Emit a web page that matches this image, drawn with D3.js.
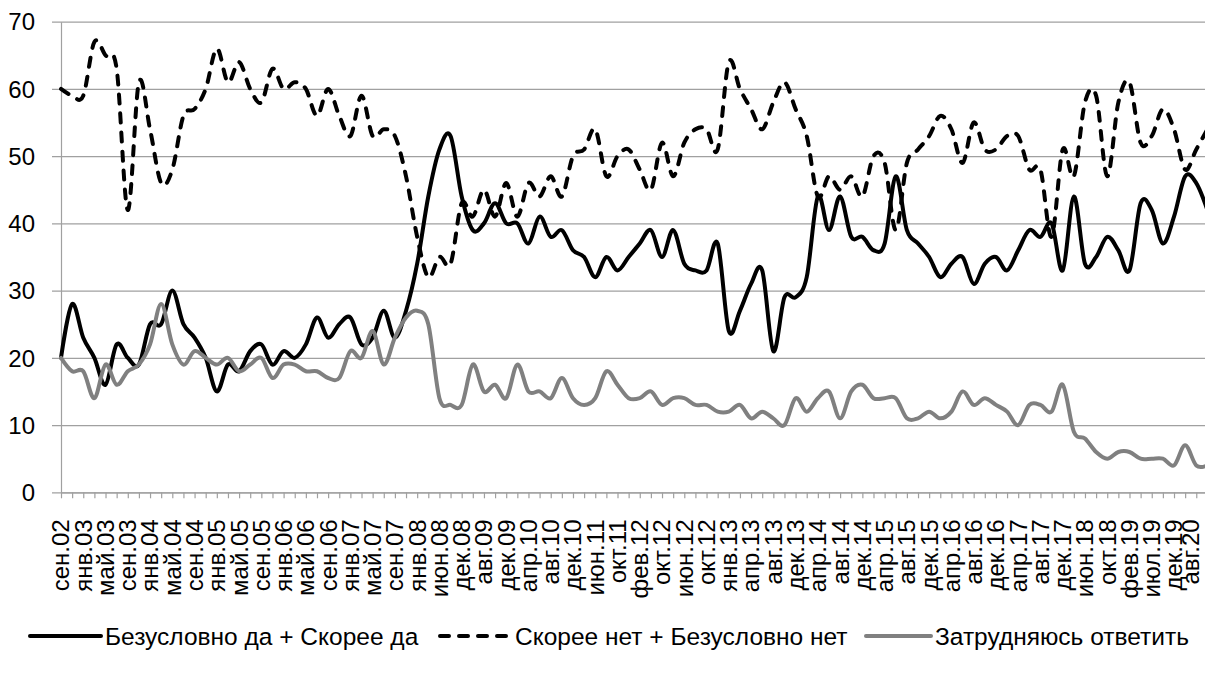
<!DOCTYPE html>
<html><head><meta charset="utf-8">
<script src="https://cdn.jsdelivr.net/npm/d3@7"></script>
<style>
body{margin:0;background:#fff}
svg{display:block}
text{font-family:"Liberation Sans",Arial,sans-serif;fill:#000}
</style>
</head><body>
<svg id="c" width="1205" height="676"></svg>
<script>
const tickLabels = ["сен.02","янв.03","май.03","сен.03","янв.04","май.04","сен.04","янв.05","май.05","сен.05","янв.06","май.06","сен.06","янв.07","май.07","сен.07","янв.08","июн.08","дек.08","авг.09","дек.09","апр.10","авг.10","дек.10","июн.11","окт.11","фев.12","окт.12","июн.12","окт.12","янв.13","апр.13","авг.13","дек.13","апр.14","авг.14","дек.14","апр.15","авг.15","дек.15","апр.16","авг.16","дек.16","апр.17","авг.17","дек.17","июн.18","окт.18","фев.19","июл.19","дек.19","авг.20"];

const seriesNames = ["Безусловно да + Скорее да","Скорее нет + Безусловно нет","Затрудняюсь ответить"];

const yesValues = [20,28,23,20,16,22,20,19,25,25,
30,25,23,20,15,19,18,21,22,19,
21,20,22,26,23,25,26,22,23,27,
23,27,34,44,51,53,44,39,40,43,
40,40,37,41,38,39,36,35,32,35,
33,35,37,39,35,39,34,33,33,37,
24,27,31,33,21,29,29,32,44,39,
44,38,38,36,37,47,39,37,35,32,
34,35,31,34,35,33,36,39,38,40,
33,44,34,35,38,36,33,43,42,37,
41,47,46,42];

const noValues = [60,59,59,67,65,63,42,61,54,46,
48,56,57,60,66,61,64,60,58,63,
60,61,60,56,60,56,53,59,53,54,
53,47,38,32,35,34,43,41,45,41,
46,41,46,44,47,44,50,51,54,47,
50,51,48,45,52,47,52,54,54,51,
64,60,57,54,58,61,57,53,44,47,
45,47,44,50,49,39,49,51,53,56,
54,49,55,51,51,53,53,48,48,38,
51,47,58,59,47,58,61,52,53,57,
54,48,51,54];

const dkValues = [20,18,18,14,19,16,18,19,22,28,
22,19,21,20,19,20,18,19,20,17,
19,19,18,18,17,17,21,20,24,19,
23,26,27,25,14,13,13,19,15,16,
14,19,15,15,14,17,14,13,14,18,
16,14,14,15,13,14,14,13,13,12,
12,13,11,12,11,10,14,12,14,15,
11,15,16,14,14,14,11,11,12,11,
12,15,13,14,13,12,10,13,13,12,
16,9,8,6,5,6,6,5,5,5,
4,7,4,4];

const yTicks = [0,10,20,30,40,50,60,70];

const svg = d3.select("#c");
const W = 1205;
const x = d3.scaleLinear().domain([0, yesValues.length - 1]).range([61, 1207.4]);
const y = d3.scaleLinear().domain([0, 70]).range([492.3, 21.7]);

// y axis + gridlines
const gy = svg.append("g").attr("transform", "translate(61,0)")
  .call(d3.axisLeft(y).tickValues(yTicks).tickSizeOuter(0).tickFormat(d3.format("d")));
gy.select(".domain").attr("stroke", "#a0a0a0").attr("stroke-width", 1.2);
gy.selectAll(".tick line").attr("x1", -9).attr("x2", W - 61).attr("stroke", "#a0a0a0").attr("stroke-width", 1.2);
gy.selectAll(".tick text").attr("x", -26).attr("dy", "0.34em").style("font-size", "24px")
  .style("font-family", "'Liberation Sans',Arial,sans-serif").attr("fill", "#000");

// x axis
const gx = svg.append("g").attr("transform", `translate(0,${y(0)})`)
  .call(d3.axisBottom(x).tickValues(d3.range(yesValues.length)).tickSize(6).tickSizeOuter(0)
    .tickFormat(i => i % 2 === 0 ? tickLabels[i / 2] : ""));
gx.select(".domain").attr("stroke", "#a0a0a0").attr("stroke-width", 1.2);
gx.selectAll(".tick line").attr("stroke", "#a0a0a0").attr("stroke-width", 1.2);
gx.selectAll(".tick text")
  .attr("transform", "rotate(-90)").attr("x", -27).attr("y", 0)
  .attr("dy", (d) => d === 102 ? "0.1em" : "0.33em")
  .attr("text-anchor", "end").style("font-size", "24px")
  .style("font-family", "'Liberation Sans',Arial,sans-serif").attr("fill", "#000");

const line = d3.line().x((d, i) => x(i)).y(d => y(d)).curve(d3.curveCatmullRom.alpha(0));

const styles = [
  {values: yesValues, stroke: "#000", dash: null},
  {values: noValues, stroke: "#000", dash: "9,10"},
  {values: dkValues, stroke: "#808080", dash: null}
];
styles.forEach(s => {
  svg.append("path").datum(s.values).attr("d", line)
    .attr("fill", "none").attr("stroke", s.stroke).attr("stroke-width", 4)
    .attr("stroke-linejoin", "round").attr("stroke-linecap", "round")
    .attr("stroke-dasharray", s.dash);
});

// legend
const legendPos = [{lx: 30, tx: 105}, {lx: 440, tx: 515}, {lx: 866, tx: 935}];
const ly = 636;
styles.forEach((s, k) => {
  const p = legendPos[k];
  svg.append("line").attr("x1", p.lx).attr("x2", p.tx - 4).attr("y1", ly).attr("y2", ly)
    .attr("stroke", s.stroke).attr("stroke-width", 4).attr("stroke-linecap", "round")
    .attr("stroke-dasharray", s.dash);
  svg.append("text").attr("x", p.tx).attr("y", ly).attr("dy", "0.35em")
    .style("font-size", "24.5px").text(seriesNames[k]);
});
</script>
</body></html>
